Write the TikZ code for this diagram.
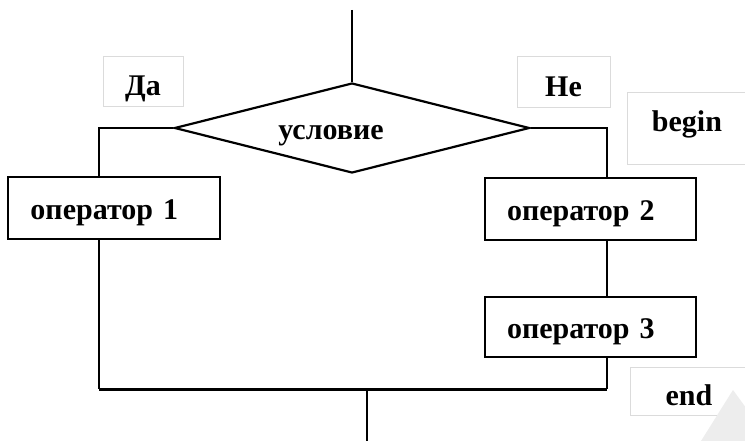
\documentclass[tikz,border=0pt]{standalone}
\usepackage{fontspec}
\setmainfont{Liberation Serif}
\usetikzlibrary{shapes.geometric}
\begin{document}
\begin{tikzpicture}[x=1pt,y=-1pt,
  every node/.style={font=\bfseries\fontsize{30}{32}\selectfont},
  flow/.style={draw=black,line width=2.2pt},
  opbox/.style={draw=black,line width=2.2pt,fill=white,minimum height=62pt,
    inner xsep=22pt,inner ysep=0pt,text width=167pt,align=left,
    text height=23pt,text depth=0pt},
  tagbox/.style={draw=black!14,line width=1pt,fill=white,inner sep=0pt,
    align=center,text depth=0pt},
  cond/.style={diamond,draw=black,line width=2.2pt,fill=white,
    minimum width=355pt,minimum height=90pt,inner sep=0pt}]
\useasboundingbox (0,0) rectangle (745,441);

% labels for the branches and the block markers
\node[tagbox,minimum width=80pt,minimum height=50pt,text height=28pt] (yes) at (143,82) {Да};
\node[tagbox,minimum width=93pt,minimum height=51pt,text height=28pt] (no) at (563.5,82.5) {Не};
\node[tagbox,minimum width=120pt,minimum height=72pt,text height=6pt] (begin) at (687,129) {begin};
\node[tagbox,minimum width=118pt,minimum height=48pt,text height=28pt] (end) at (689,391) {end};

% condition and operators
\node[cond] (c) at (352,128) {};
\node[text height=24pt,text depth=0pt,inner sep=0pt] (ctext) at (331,128) {условие};
\node[opbox,minimum width=212pt] (op1) at (114,208) {оператор 1};
\node[opbox,minimum width=211pt] (op2) at (590.5,209) {оператор 2};
\node[opbox,minimum width=211pt,minimum height=60pt] (op3) at (590.5,327) {оператор 3};

% helper points for the branch lines
\coordinate (in) at (352,10);
\coordinate (jl) at (99,389);
\coordinate (jr) at (607,389);
\coordinate (out) at (367,441);

% connectors
\draw[flow] (in) -- (c.north);
\draw[flow] (c.west) -| (op1.north -| jl);
\draw[flow] (c.east) -| (op2.north -| jr);
\draw[flow] (op2.south -| jr) -- (op3.north -| jr);
\draw[flow] (op1.south -| jl) -- (jl);
\draw[flow] (op3.south -| jr) -- (jr);
\draw[black,line width=3pt] (jl) -- (jr);
\draw[flow] (jl -| out) -- (out);

% faint corner mark
\fill[black!7] (701,441) -- (733,390) -- (770,441) -- cycle;
\end{tikzpicture}
\end{document}
